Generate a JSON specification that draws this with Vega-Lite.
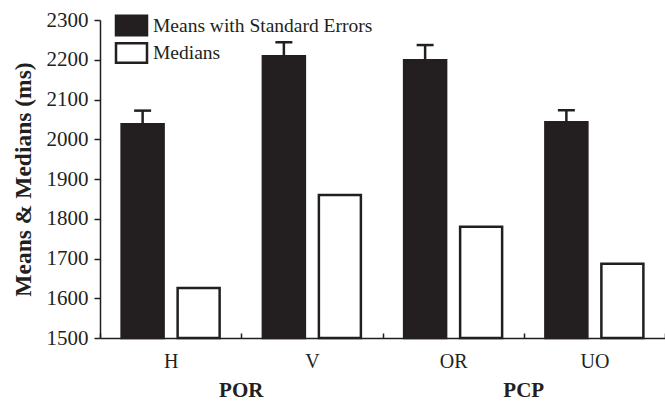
{
  "$schema": "https://vega.github.io/schema/vega-lite/v6.json",
  "width": 565,
  "height": 318,
  "autosize": {"type": "none"},
  "padding": {"left": 100, "top": 20, "right": 0, "bottom": 63},
  "background": "white",
  "config": {
    "view": {"stroke": null},
    "font": "Liberation Serif",
    "axis": {
      "domainColor": "#231f20",
      "domainWidth": 1.5,
      "tickColor": "#231f20",
      "tickWidth": 1.5,
      "labelColor": "#231f20",
      "labelFont": "Liberation Serif",
      "labelFontSize": 20,
      "titleFont": "Liberation Serif",
      "titleColor": "#231f20",
      "grid": false
    },
    "axisY": {
      "labelFontSize": 21,
      "labelOverlap": false,
      "tickSize": 6,
      "labelPadding": 6,
      "titleFontSize": 23.5,
      "titleFontWeight": "bold",
      "titlePadding": 11,
      "format": "d"
    }
  },
  "datasets": {
    "bars": [
      {"cond": "H", "series": "Means with Standard Errors", "value": 2038, "upper": 2072},
      {"cond": "H", "series": "Medians", "value": 1626, "upper": 1626},
      {"cond": "V", "series": "Means with Standard Errors", "value": 2209, "upper": 2244},
      {"cond": "V", "series": "Medians", "value": 1860, "upper": 1860},
      {"cond": "OR", "series": "Means with Standard Errors", "value": 2199, "upper": 2237},
      {"cond": "OR", "series": "Medians", "value": 1780, "upper": 1780},
      {"cond": "UO", "series": "Means with Standard Errors", "value": 2043, "upper": 2073},
      {"cond": "UO", "series": "Medians", "value": 1687, "upper": 1687}
    ],
    "groups": [
      {"cond": "H", "group": "POR"},
      {"cond": "OR", "group": "PCP"}
    ]
  },
  "layer": [
    {
      "data": {"name": "bars"},
      "mark": {"type": "bar", "stroke": "#231f20", "strokeWidth": 2.5},
      "encoding": {
        "x": {
          "field": "cond", "type": "nominal",
          "scale": {"domain": ["H", "V", "OR", "UO"], "paddingInner": 0, "paddingOuter": 0},
          "axis": {"title": null, "tickSize": -5, "labelPadding": 18, "labelAngle": 0, "tickBand": "extent"}
        },
        "xOffset": {
          "field": "series", "type": "nominal",
          "scale": {"paddingInner": 0.25, "paddingOuter": 0.386}
        },
        "y": {
          "field": "value", "type": "quantitative",
          "scale": {"domain": [1500, 2300], "nice": false, "zero": false},
          "axis": {"title": "Means & Medians (ms)", "values": [1500, 1600, 1700, 1800, 1900, 2000, 2100, 2200, 2300]}
        },
        "y2": {"datum": 1500},
        "fill": {
          "field": "series", "type": "nominal",
          "scale": {"domain": ["Means with Standard Errors", "Medians"], "range": ["#231f20", "#ffffff"]},
          "legend": {
            "title": null,
            "orient": "none",
            "legendX": 20,
            "legendY": -6,
            "symbolType": "M-1.55,-0.97H1.55V0.97H-1.55Z",
            "symbolSize": 400,
            "symbolStrokeColor": "#231f20",
            "symbolStrokeWidth": 2.5,
            "labelFont": "Liberation Serif",
            "labelFontSize": 19.5,
            "labelColor": "#231f20",
            "labelLimit": 400,
            "labelOffset": 10,
            "rowPadding": -3.5
          }
        }
      }
    },
    {
      "data": {"name": "bars"},
      "transform": [{"filter": "datum.series === 'Means with Standard Errors'"}],
      "mark": {"type": "rule", "color": "#231f20", "strokeWidth": 2.5},
      "encoding": {
        "x": {"field": "cond", "type": "nominal"},
        "xOffset": {"field": "series", "type": "nominal"},
        "y": {"field": "value", "type": "quantitative", "axis": {"title": "Means & Medians (ms)", "values": [1500, 1600, 1700, 1800, 1900, 2000, 2100, 2200, 2300]}},
        "y2": {"field": "upper"}
      }
    },
    {
      "data": {"name": "bars"},
      "transform": [{"filter": "datum.series === 'Means with Standard Errors'"}],
      "mark": {"type": "tick", "color": "#231f20", "size": 17, "thickness": 2.5, "orient": "horizontal", "opacity": 1},
      "encoding": {
        "x": {"field": "cond", "type": "nominal"},
        "xOffset": {"field": "series", "type": "nominal"},
        "y": {"field": "upper", "type": "quantitative", "axis": {"title": "Means & Medians (ms)", "values": [1500, 1600, 1700, 1800, 1900, 2000, 2100, 2200, 2300]}}
      }
    },
    {
      "data": {"name": "groups"},
      "mark": {"type": "text", "font": "Liberation Serif", "fontSize": 21, "fontWeight": "bold", "color": "#231f20", "baseline": "alphabetic", "dy": 59},
      "encoding": {
        "x": {"field": "cond", "type": "nominal", "bandPosition": 1},
        "y": {"datum": 1500, "type": "quantitative", "axis": {"title": "Means & Medians (ms)", "values": [1500, 1600, 1700, 1800, 1900, 2000, 2100, 2200, 2300]}},
        "text": {"field": "group"}
      }
    }
  ]
}
